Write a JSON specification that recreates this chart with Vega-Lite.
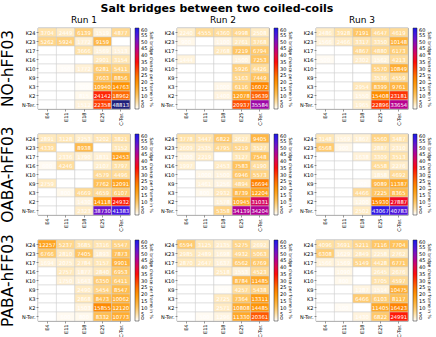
{
"$schema": "https://vega.github.io/schema/vega-lite/v6.json",
"padding": {"left": 0, "right": 0, "top": 3, "bottom": 0},
"title": {"text": "Salt bridges between two coiled-coils", "fontSize": 11, "fontWeight": "bold", "font": "DejaVu Sans", "anchor": "middle", "frame": "bounds", "offset": 2, "color": "#000"},
"data": {"values": [
{"m":"NO-hFF03","r":"Run 1","d":"K24","a":"E4","v":3704},{"m":"NO-hFF03","r":"Run 1","d":"K24","a":"E11","v":2449},{"m":"NO-hFF03","r":"Run 1","d":"K24","a":"E18","v":6139},{"m":"NO-hFF03","r":"Run 1","d":"K24","a":"E25","v":1519},{"m":"NO-hFF03","r":"Run 1","d":"K24","a":"C-Ter.","v":4877},
{"m":"NO-hFF03","r":"Run 1","d":"K23","a":"E4","v":5262},{"m":"NO-hFF03","r":"Run 1","d":"K23","a":"E11","v":5924},{"m":"NO-hFF03","r":"Run 1","d":"K23","a":"E18","v":1772},{"m":"NO-hFF03","r":"Run 1","d":"K23","a":"E25","v":9159},{"m":"NO-hFF03","r":"Run 1","d":"K23","a":"C-Ter.","v":0},
{"m":"NO-hFF03","r":"Run 1","d":"K17","a":"E4","v":0},{"m":"NO-hFF03","r":"Run 1","d":"K17","a":"E11","v":0},{"m":"NO-hFF03","r":"Run 1","d":"K17","a":"E18","v":3666},{"m":"NO-hFF03","r":"Run 1","d":"K17","a":"E25","v":1569},{"m":"NO-hFF03","r":"Run 1","d":"K17","a":"C-Ter.","v":1513},
{"m":"NO-hFF03","r":"Run 1","d":"K16","a":"E4","v":0},{"m":"NO-hFF03","r":"Run 1","d":"K16","a":"E11","v":0},{"m":"NO-hFF03","r":"Run 1","d":"K16","a":"E18","v":0},{"m":"NO-hFF03","r":"Run 1","d":"K16","a":"E25","v":2901},{"m":"NO-hFF03","r":"Run 1","d":"K16","a":"C-Ter.","v":3154},
{"m":"NO-hFF03","r":"Run 1","d":"K10","a":"E4","v":0},{"m":"NO-hFF03","r":"Run 1","d":"K10","a":"E11","v":350},{"m":"NO-hFF03","r":"Run 1","d":"K10","a":"E18","v":1772},{"m":"NO-hFF03","r":"Run 1","d":"K10","a":"E25","v":6281},{"m":"NO-hFF03","r":"Run 1","d":"K10","a":"C-Ter.","v":5411},
{"m":"NO-hFF03","r":"Run 1","d":"K9","a":"E4","v":0},{"m":"NO-hFF03","r":"Run 1","d":"K9","a":"E11","v":0},{"m":"NO-hFF03","r":"Run 1","d":"K9","a":"E18","v":0},{"m":"NO-hFF03","r":"Run 1","d":"K9","a":"E25","v":7603},{"m":"NO-hFF03","r":"Run 1","d":"K9","a":"C-Ter.","v":8856},
{"m":"NO-hFF03","r":"Run 1","d":"K3","a":"E4","v":0},{"m":"NO-hFF03","r":"Run 1","d":"K3","a":"E11","v":0},{"m":"NO-hFF03","r":"Run 1","d":"K3","a":"E18","v":300},{"m":"NO-hFF03","r":"Run 1","d":"K3","a":"E25","v":10940},{"m":"NO-hFF03","r":"Run 1","d":"K3","a":"C-Ter.","v":14763},
{"m":"NO-hFF03","r":"Run 1","d":"K2","a":"E4","v":0},{"m":"NO-hFF03","r":"Run 1","d":"K2","a":"E11","v":0},{"m":"NO-hFF03","r":"Run 1","d":"K2","a":"E18","v":815},{"m":"NO-hFF03","r":"Run 1","d":"K2","a":"E25","v":24142},{"m":"NO-hFF03","r":"Run 1","d":"K2","a":"C-Ter.","v":18962},
{"m":"NO-hFF03","r":"Run 1","d":"N-Ter.","a":"E4","v":0},{"m":"NO-hFF03","r":"Run 1","d":"N-Ter.","a":"E11","v":0},{"m":"NO-hFF03","r":"Run 1","d":"N-Ter.","a":"E18","v":1512},{"m":"NO-hFF03","r":"Run 1","d":"N-Ter.","a":"E25","v":22358},{"m":"NO-hFF03","r":"Run 1","d":"N-Ter.","a":"C-Ter.","v":48813},

{"m":"NO-hFF03","r":"Run 2","d":"K24","a":"E4","v":2240},{"m":"NO-hFF03","r":"Run 2","d":"K24","a":"E11","v":4555},{"m":"NO-hFF03","r":"Run 2","d":"K24","a":"E18","v":4360},{"m":"NO-hFF03","r":"Run 2","d":"K24","a":"E25","v":4998},{"m":"NO-hFF03","r":"Run 2","d":"K24","a":"C-Ter.","v":2508},
{"m":"NO-hFF03","r":"Run 2","d":"K23","a":"E4","v":900},{"m":"NO-hFF03","r":"Run 2","d":"K23","a":"E11","v":0},{"m":"NO-hFF03","r":"Run 2","d":"K23","a":"E18","v":1100},{"m":"NO-hFF03","r":"Run 2","d":"K23","a":"E25","v":2761},{"m":"NO-hFF03","r":"Run 2","d":"K23","a":"C-Ter.","v":3768},
{"m":"NO-hFF03","r":"Run 2","d":"K17","a":"E4","v":0},{"m":"NO-hFF03","r":"Run 2","d":"K17","a":"E11","v":0},{"m":"NO-hFF03","r":"Run 2","d":"K17","a":"E18","v":2768},{"m":"NO-hFF03","r":"Run 2","d":"K17","a":"E25","v":7219},{"m":"NO-hFF03","r":"Run 2","d":"K17","a":"C-Ter.","v":6794},
{"m":"NO-hFF03","r":"Run 2","d":"K16","a":"E4","v":1444},{"m":"NO-hFF03","r":"Run 2","d":"K16","a":"E11","v":0},{"m":"NO-hFF03","r":"Run 2","d":"K16","a":"E18","v":0},{"m":"NO-hFF03","r":"Run 2","d":"K16","a":"E25","v":1500},{"m":"NO-hFF03","r":"Run 2","d":"K16","a":"C-Ter.","v":7253},
{"m":"NO-hFF03","r":"Run 2","d":"K10","a":"E4","v":0},{"m":"NO-hFF03","r":"Run 2","d":"K10","a":"E11","v":0},{"m":"NO-hFF03","r":"Run 2","d":"K10","a":"E18","v":0},{"m":"NO-hFF03","r":"Run 2","d":"K10","a":"E25","v":5926},{"m":"NO-hFF03","r":"Run 2","d":"K10","a":"C-Ter.","v":4426},
{"m":"NO-hFF03","r":"Run 2","d":"K9","a":"E4","v":0},{"m":"NO-hFF03","r":"Run 2","d":"K9","a":"E11","v":0},{"m":"NO-hFF03","r":"Run 2","d":"K9","a":"E18","v":0},{"m":"NO-hFF03","r":"Run 2","d":"K9","a":"E25","v":5163},{"m":"NO-hFF03","r":"Run 2","d":"K9","a":"C-Ter.","v":7449},
{"m":"NO-hFF03","r":"Run 2","d":"K3","a":"E4","v":0},{"m":"NO-hFF03","r":"Run 2","d":"K3","a":"E11","v":0},{"m":"NO-hFF03","r":"Run 2","d":"K3","a":"E18","v":1000},{"m":"NO-hFF03","r":"Run 2","d":"K3","a":"E25","v":6116},{"m":"NO-hFF03","r":"Run 2","d":"K3","a":"C-Ter.","v":16072},
{"m":"NO-hFF03","r":"Run 2","d":"K2","a":"E4","v":0},{"m":"NO-hFF03","r":"Run 2","d":"K2","a":"E11","v":0},{"m":"NO-hFF03","r":"Run 2","d":"K2","a":"E18","v":1400},{"m":"NO-hFF03","r":"Run 2","d":"K2","a":"E25","v":12078},{"m":"NO-hFF03","r":"Run 2","d":"K2","a":"C-Ter.","v":19639},
{"m":"NO-hFF03","r":"Run 2","d":"N-Ter.","a":"E4","v":0},{"m":"NO-hFF03","r":"Run 2","d":"N-Ter.","a":"E11","v":0},{"m":"NO-hFF03","r":"Run 2","d":"N-Ter.","a":"E18","v":0},{"m":"NO-hFF03","r":"Run 2","d":"N-Ter.","a":"E25","v":20937},{"m":"NO-hFF03","r":"Run 2","d":"N-Ter.","a":"C-Ter.","v":35584},

{"m":"NO-hFF03","r":"Run 3","d":"K24","a":"E4","v":2486},{"m":"NO-hFF03","r":"Run 3","d":"K24","a":"E11","v":3928},{"m":"NO-hFF03","r":"Run 3","d":"K24","a":"E18","v":7191},{"m":"NO-hFF03","r":"Run 3","d":"K24","a":"E25","v":4647},{"m":"NO-hFF03","r":"Run 3","d":"K24","a":"C-Ter.","v":4619},
{"m":"NO-hFF03","r":"Run 3","d":"K23","a":"E4","v":1566},{"m":"NO-hFF03","r":"Run 3","d":"K23","a":"E11","v":2466},{"m":"NO-hFF03","r":"Run 3","d":"K23","a":"E18","v":3317},{"m":"NO-hFF03","r":"Run 3","d":"K23","a":"E25","v":3350},{"m":"NO-hFF03","r":"Run 3","d":"K23","a":"C-Ter.","v":10148},
{"m":"NO-hFF03","r":"Run 3","d":"K17","a":"E4","v":0},{"m":"NO-hFF03","r":"Run 3","d":"K17","a":"E11","v":0},{"m":"NO-hFF03","r":"Run 3","d":"K17","a":"E18","v":4867},{"m":"NO-hFF03","r":"Run 3","d":"K17","a":"E25","v":4880},{"m":"NO-hFF03","r":"Run 3","d":"K17","a":"C-Ter.","v":6173},
{"m":"NO-hFF03","r":"Run 3","d":"K16","a":"E4","v":500},{"m":"NO-hFF03","r":"Run 3","d":"K16","a":"E11","v":0},{"m":"NO-hFF03","r":"Run 3","d":"K16","a":"E18","v":2302},{"m":"NO-hFF03","r":"Run 3","d":"K16","a":"E25","v":1562},{"m":"NO-hFF03","r":"Run 3","d":"K16","a":"C-Ter.","v":4213},
{"m":"NO-hFF03","r":"Run 3","d":"K10","a":"E4","v":0},{"m":"NO-hFF03","r":"Run 3","d":"K10","a":"E11","v":0},{"m":"NO-hFF03","r":"Run 3","d":"K10","a":"E18","v":0},{"m":"NO-hFF03","r":"Run 3","d":"K10","a":"E25","v":5570},{"m":"NO-hFF03","r":"Run 3","d":"K10","a":"C-Ter.","v":10849},
{"m":"NO-hFF03","r":"Run 3","d":"K9","a":"E4","v":0},{"m":"NO-hFF03","r":"Run 3","d":"K9","a":"E11","v":0},{"m":"NO-hFF03","r":"Run 3","d":"K9","a":"E18","v":0},{"m":"NO-hFF03","r":"Run 3","d":"K9","a":"E25","v":3536},{"m":"NO-hFF03","r":"Run 3","d":"K9","a":"C-Ter.","v":4559},
{"m":"NO-hFF03","r":"Run 3","d":"K3","a":"E4","v":0},{"m":"NO-hFF03","r":"Run 3","d":"K3","a":"E11","v":0},{"m":"NO-hFF03","r":"Run 3","d":"K3","a":"E18","v":2954},{"m":"NO-hFF03","r":"Run 3","d":"K3","a":"E25","v":8399},{"m":"NO-hFF03","r":"Run 3","d":"K3","a":"C-Ter.","v":9761},
{"m":"NO-hFF03","r":"Run 3","d":"K2","a":"E4","v":0},{"m":"NO-hFF03","r":"Run 3","d":"K2","a":"E11","v":0},{"m":"NO-hFF03","r":"Run 3","d":"K2","a":"E18","v":1550},{"m":"NO-hFF03","r":"Run 3","d":"K2","a":"E25","v":15408},{"m":"NO-hFF03","r":"Run 3","d":"K2","a":"C-Ter.","v":23181},
{"m":"NO-hFF03","r":"Run 3","d":"N-Ter.","a":"E4","v":0},{"m":"NO-hFF03","r":"Run 3","d":"N-Ter.","a":"E11","v":0},{"m":"NO-hFF03","r":"Run 3","d":"N-Ter.","a":"E18","v":1965},{"m":"NO-hFF03","r":"Run 3","d":"N-Ter.","a":"E25","v":22896},{"m":"NO-hFF03","r":"Run 3","d":"N-Ter.","a":"C-Ter.","v":33654},

{"m":"OABA-hFF03","r":"Run 1","d":"K24","a":"E4","v":2891},{"m":"OABA-hFF03","r":"Run 1","d":"K24","a":"E11","v":3128},{"m":"OABA-hFF03","r":"Run 1","d":"K24","a":"E18","v":2253},{"m":"OABA-hFF03","r":"Run 1","d":"K24","a":"E25","v":3202},{"m":"OABA-hFF03","r":"Run 1","d":"K24","a":"C-Ter.","v":3821},
{"m":"OABA-hFF03","r":"Run 1","d":"K23","a":"E4","v":4339},{"m":"OABA-hFF03","r":"Run 1","d":"K23","a":"E11","v":0},{"m":"OABA-hFF03","r":"Run 1","d":"K23","a":"E18","v":8938},{"m":"OABA-hFF03","r":"Run 1","d":"K23","a":"E25","v":0},{"m":"OABA-hFF03","r":"Run 1","d":"K23","a":"C-Ter.","v":3152},
{"m":"OABA-hFF03","r":"Run 1","d":"K17","a":"E4","v":0},{"m":"OABA-hFF03","r":"Run 1","d":"K17","a":"E11","v":2336},{"m":"OABA-hFF03","r":"Run 1","d":"K17","a":"E18","v":1790},{"m":"OABA-hFF03","r":"Run 1","d":"K17","a":"E25","v":1831},{"m":"OABA-hFF03","r":"Run 1","d":"K17","a":"C-Ter.","v":12453},
{"m":"OABA-hFF03","r":"Run 1","d":"K16","a":"E4","v":600},{"m":"OABA-hFF03","r":"Run 1","d":"K16","a":"E11","v":4246},{"m":"OABA-hFF03","r":"Run 1","d":"K16","a":"E18","v":0},{"m":"OABA-hFF03","r":"Run 1","d":"K16","a":"E25","v":2107},{"m":"OABA-hFF03","r":"Run 1","d":"K16","a":"C-Ter.","v":3797},
{"m":"OABA-hFF03","r":"Run 1","d":"K10","a":"E4","v":0},{"m":"OABA-hFF03","r":"Run 1","d":"K10","a":"E11","v":0},{"m":"OABA-hFF03","r":"Run 1","d":"K10","a":"E18","v":0},{"m":"OABA-hFF03","r":"Run 1","d":"K10","a":"E25","v":4579},{"m":"OABA-hFF03","r":"Run 1","d":"K10","a":"C-Ter.","v":4496},
{"m":"OABA-hFF03","r":"Run 1","d":"K9","a":"E4","v":2759},{"m":"OABA-hFF03","r":"Run 1","d":"K9","a":"E11","v":0},{"m":"OABA-hFF03","r":"Run 1","d":"K9","a":"E18","v":0},{"m":"OABA-hFF03","r":"Run 1","d":"K9","a":"E25","v":7762},{"m":"OABA-hFF03","r":"Run 1","d":"K9","a":"C-Ter.","v":12091},
{"m":"OABA-hFF03","r":"Run 1","d":"K3","a":"E4","v":0},{"m":"OABA-hFF03","r":"Run 1","d":"K3","a":"E11","v":800},{"m":"OABA-hFF03","r":"Run 1","d":"K3","a":"E18","v":4669},{"m":"OABA-hFF03","r":"Run 1","d":"K3","a":"E25","v":4659},{"m":"OABA-hFF03","r":"Run 1","d":"K3","a":"C-Ter.","v":6107},
{"m":"OABA-hFF03","r":"Run 1","d":"K2","a":"E4","v":0},{"m":"OABA-hFF03","r":"Run 1","d":"K2","a":"E11","v":0},{"m":"OABA-hFF03","r":"Run 1","d":"K2","a":"E18","v":1430},{"m":"OABA-hFF03","r":"Run 1","d":"K2","a":"E25","v":14118},{"m":"OABA-hFF03","r":"Run 1","d":"K2","a":"C-Ter.","v":24932},
{"m":"OABA-hFF03","r":"Run 1","d":"N-Ter.","a":"E4","v":0},{"m":"OABA-hFF03","r":"Run 1","d":"N-Ter.","a":"E11","v":0},{"m":"OABA-hFF03","r":"Run 1","d":"N-Ter.","a":"E18","v":2323},{"m":"OABA-hFF03","r":"Run 1","d":"N-Ter.","a":"E25","v":38730},{"m":"OABA-hFF03","r":"Run 1","d":"N-Ter.","a":"C-Ter.","v":41383},

{"m":"OABA-hFF03","r":"Run 2","d":"K24","a":"E4","v":3778},{"m":"OABA-hFF03","r":"Run 2","d":"K24","a":"E11","v":3447},{"m":"OABA-hFF03","r":"Run 2","d":"K24","a":"E18","v":6822},{"m":"OABA-hFF03","r":"Run 2","d":"K24","a":"E25","v":2627},{"m":"OABA-hFF03","r":"Run 2","d":"K24","a":"C-Ter.","v":9405},
{"m":"OABA-hFF03","r":"Run 2","d":"K23","a":"E4","v":2609},{"m":"OABA-hFF03","r":"Run 2","d":"K23","a":"E11","v":2535},{"m":"OABA-hFF03","r":"Run 2","d":"K23","a":"E18","v":4795},{"m":"OABA-hFF03","r":"Run 2","d":"K23","a":"E25","v":5219},{"m":"OABA-hFF03","r":"Run 2","d":"K23","a":"C-Ter.","v":3527},
{"m":"OABA-hFF03","r":"Run 2","d":"K17","a":"E4","v":1300},{"m":"OABA-hFF03","r":"Run 2","d":"K17","a":"E11","v":2219},{"m":"OABA-hFF03","r":"Run 2","d":"K17","a":"E18","v":0},{"m":"OABA-hFF03","r":"Run 2","d":"K17","a":"E25","v":3127},{"m":"OABA-hFF03","r":"Run 2","d":"K17","a":"C-Ter.","v":7548},
{"m":"OABA-hFF03","r":"Run 2","d":"K16","a":"E4","v":1997},{"m":"OABA-hFF03","r":"Run 2","d":"K16","a":"E11","v":0},{"m":"OABA-hFF03","r":"Run 2","d":"K16","a":"E18","v":2453},{"m":"OABA-hFF03","r":"Run 2","d":"K16","a":"E25","v":7583},{"m":"OABA-hFF03","r":"Run 2","d":"K16","a":"C-Ter.","v":4190},
{"m":"OABA-hFF03","r":"Run 2","d":"K10","a":"E4","v":0},{"m":"OABA-hFF03","r":"Run 2","d":"K10","a":"E11","v":1000},{"m":"OABA-hFF03","r":"Run 2","d":"K10","a":"E18","v":1500},{"m":"OABA-hFF03","r":"Run 2","d":"K10","a":"E25","v":6946},{"m":"OABA-hFF03","r":"Run 2","d":"K10","a":"C-Ter.","v":5573},
{"m":"OABA-hFF03","r":"Run 2","d":"K9","a":"E4","v":0},{"m":"OABA-hFF03","r":"Run 2","d":"K9","a":"E11","v":1461},{"m":"OABA-hFF03","r":"Run 2","d":"K9","a":"E18","v":1256},{"m":"OABA-hFF03","r":"Run 2","d":"K9","a":"E25","v":4894},{"m":"OABA-hFF03","r":"Run 2","d":"K9","a":"C-Ter.","v":16694},
{"m":"OABA-hFF03","r":"Run 2","d":"K3","a":"E4","v":0},{"m":"OABA-hFF03","r":"Run 2","d":"K3","a":"E11","v":800},{"m":"OABA-hFF03","r":"Run 2","d":"K3","a":"E18","v":2932},{"m":"OABA-hFF03","r":"Run 2","d":"K3","a":"E25","v":8739},{"m":"OABA-hFF03","r":"Run 2","d":"K3","a":"C-Ter.","v":12204},
{"m":"OABA-hFF03","r":"Run 2","d":"K2","a":"E4","v":0},{"m":"OABA-hFF03","r":"Run 2","d":"K2","a":"E11","v":0},{"m":"OABA-hFF03","r":"Run 2","d":"K2","a":"E18","v":1578},{"m":"OABA-hFF03","r":"Run 2","d":"K2","a":"E25","v":10945},{"m":"OABA-hFF03","r":"Run 2","d":"K2","a":"C-Ter.","v":31031},
{"m":"OABA-hFF03","r":"Run 2","d":"N-Ter.","a":"E4","v":0},{"m":"OABA-hFF03","r":"Run 2","d":"N-Ter.","a":"E11","v":0},{"m":"OABA-hFF03","r":"Run 2","d":"N-Ter.","a":"E18","v":5358},{"m":"OABA-hFF03","r":"Run 2","d":"N-Ter.","a":"E25","v":34139},{"m":"OABA-hFF03","r":"Run 2","d":"N-Ter.","a":"C-Ter.","v":34204},

{"m":"OABA-hFF03","r":"Run 3","d":"K24","a":"E4","v":3148},{"m":"OABA-hFF03","r":"Run 3","d":"K24","a":"E11","v":1569},{"m":"OABA-hFF03","r":"Run 3","d":"K24","a":"E18","v":1867},{"m":"OABA-hFF03","r":"Run 3","d":"K24","a":"E25","v":5560},{"m":"OABA-hFF03","r":"Run 3","d":"K24","a":"C-Ter.","v":3487},
{"m":"OABA-hFF03","r":"Run 3","d":"K23","a":"E4","v":6568},{"m":"OABA-hFF03","r":"Run 3","d":"K23","a":"E11","v":900},{"m":"OABA-hFF03","r":"Run 3","d":"K23","a":"E18","v":0},{"m":"OABA-hFF03","r":"Run 3","d":"K23","a":"E25","v":2887},{"m":"OABA-hFF03","r":"Run 3","d":"K23","a":"C-Ter.","v":2310},
{"m":"OABA-hFF03","r":"Run 3","d":"K17","a":"E4","v":0},{"m":"OABA-hFF03","r":"Run 3","d":"K17","a":"E11","v":0},{"m":"OABA-hFF03","r":"Run 3","d":"K17","a":"E18","v":1638},{"m":"OABA-hFF03","r":"Run 3","d":"K17","a":"E25","v":3309},{"m":"OABA-hFF03","r":"Run 3","d":"K17","a":"C-Ter.","v":3513},
{"m":"OABA-hFF03","r":"Run 3","d":"K16","a":"E4","v":0},{"m":"OABA-hFF03","r":"Run 3","d":"K16","a":"E11","v":0},{"m":"OABA-hFF03","r":"Run 3","d":"K16","a":"E18","v":0},{"m":"OABA-hFF03","r":"Run 3","d":"K16","a":"E25","v":4558},{"m":"OABA-hFF03","r":"Run 3","d":"K16","a":"C-Ter.","v":2276},
{"m":"OABA-hFF03","r":"Run 3","d":"K10","a":"E4","v":0},{"m":"OABA-hFF03","r":"Run 3","d":"K10","a":"E11","v":0},{"m":"OABA-hFF03","r":"Run 3","d":"K10","a":"E18","v":0},{"m":"OABA-hFF03","r":"Run 3","d":"K10","a":"E25","v":1858},{"m":"OABA-hFF03","r":"Run 3","d":"K10","a":"C-Ter.","v":4692},
{"m":"OABA-hFF03","r":"Run 3","d":"K9","a":"E4","v":0},{"m":"OABA-hFF03","r":"Run 3","d":"K9","a":"E11","v":0},{"m":"OABA-hFF03","r":"Run 3","d":"K9","a":"E18","v":400},{"m":"OABA-hFF03","r":"Run 3","d":"K9","a":"E25","v":9089},{"m":"OABA-hFF03","r":"Run 3","d":"K9","a":"C-Ter.","v":11387},
{"m":"OABA-hFF03","r":"Run 3","d":"K3","a":"E4","v":0},{"m":"OABA-hFF03","r":"Run 3","d":"K3","a":"E11","v":0},{"m":"OABA-hFF03","r":"Run 3","d":"K3","a":"E18","v":4466},{"m":"OABA-hFF03","r":"Run 3","d":"K3","a":"E25","v":7225},{"m":"OABA-hFF03","r":"Run 3","d":"K3","a":"C-Ter.","v":8365},
{"m":"OABA-hFF03","r":"Run 3","d":"K2","a":"E4","v":0},{"m":"OABA-hFF03","r":"Run 3","d":"K2","a":"E11","v":0},{"m":"OABA-hFF03","r":"Run 3","d":"K2","a":"E18","v":1200},{"m":"OABA-hFF03","r":"Run 3","d":"K2","a":"E25","v":15930},{"m":"OABA-hFF03","r":"Run 3","d":"K2","a":"C-Ter.","v":27887},
{"m":"OABA-hFF03","r":"Run 3","d":"N-Ter.","a":"E4","v":0},{"m":"OABA-hFF03","r":"Run 3","d":"N-Ter.","a":"E11","v":0},{"m":"OABA-hFF03","r":"Run 3","d":"N-Ter.","a":"E18","v":2502},{"m":"OABA-hFF03","r":"Run 3","d":"N-Ter.","a":"E25","v":43067},{"m":"OABA-hFF03","r":"Run 3","d":"N-Ter.","a":"C-Ter.","v":40783},

{"m":"PABA-hFF03","r":"Run 1","d":"K24","a":"E4","v":12257},{"m":"PABA-hFF03","r":"Run 1","d":"K24","a":"E11","v":5237},{"m":"PABA-hFF03","r":"Run 1","d":"K24","a":"E18","v":3685},{"m":"PABA-hFF03","r":"Run 1","d":"K24","a":"E25","v":3316},{"m":"PABA-hFF03","r":"Run 1","d":"K24","a":"C-Ter.","v":5547},
{"m":"PABA-hFF03","r":"Run 1","d":"K23","a":"E4","v":6766},{"m":"PABA-hFF03","r":"Run 1","d":"K23","a":"E11","v":2810},{"m":"PABA-hFF03","r":"Run 1","d":"K23","a":"E18","v":7405},{"m":"PABA-hFF03","r":"Run 1","d":"K23","a":"E25","v":1893},{"m":"PABA-hFF03","r":"Run 1","d":"K23","a":"C-Ter.","v":7873},
{"m":"PABA-hFF03","r":"Run 1","d":"K17","a":"E4","v":1694},{"m":"PABA-hFF03","r":"Run 1","d":"K17","a":"E11","v":2075},{"m":"PABA-hFF03","r":"Run 1","d":"K17","a":"E18","v":2784},{"m":"PABA-hFF03","r":"Run 1","d":"K17","a":"E25","v":3157},{"m":"PABA-hFF03","r":"Run 1","d":"K17","a":"C-Ter.","v":9901},
{"m":"PABA-hFF03","r":"Run 1","d":"K16","a":"E4","v":0},{"m":"PABA-hFF03","r":"Run 1","d":"K16","a":"E11","v":2757},{"m":"PABA-hFF03","r":"Run 1","d":"K16","a":"E18","v":1877},{"m":"PABA-hFF03","r":"Run 1","d":"K16","a":"E25","v":2840},{"m":"PABA-hFF03","r":"Run 1","d":"K16","a":"C-Ter.","v":6953},
{"m":"PABA-hFF03","r":"Run 1","d":"K10","a":"E4","v":0},{"m":"PABA-hFF03","r":"Run 1","d":"K10","a":"E11","v":1750},{"m":"PABA-hFF03","r":"Run 1","d":"K10","a":"E18","v":1643},{"m":"PABA-hFF03","r":"Run 1","d":"K10","a":"E25","v":6350},{"m":"PABA-hFF03","r":"Run 1","d":"K10","a":"C-Ter.","v":6411},
{"m":"PABA-hFF03","r":"Run 1","d":"K9","a":"E4","v":0},{"m":"PABA-hFF03","r":"Run 1","d":"K9","a":"E11","v":0},{"m":"PABA-hFF03","r":"Run 1","d":"K9","a":"E18","v":2490},{"m":"PABA-hFF03","r":"Run 1","d":"K9","a":"E25","v":5454},{"m":"PABA-hFF03","r":"Run 1","d":"K9","a":"C-Ter.","v":8547},
{"m":"PABA-hFF03","r":"Run 1","d":"K3","a":"E4","v":0},{"m":"PABA-hFF03","r":"Run 1","d":"K3","a":"E11","v":0},{"m":"PABA-hFF03","r":"Run 1","d":"K3","a":"E18","v":2868},{"m":"PABA-hFF03","r":"Run 1","d":"K3","a":"E25","v":8473},{"m":"PABA-hFF03","r":"Run 1","d":"K3","a":"C-Ter.","v":10062},
{"m":"PABA-hFF03","r":"Run 1","d":"K2","a":"E4","v":0},{"m":"PABA-hFF03","r":"Run 1","d":"K2","a":"E11","v":0},{"m":"PABA-hFF03","r":"Run 1","d":"K2","a":"E18","v":1503},{"m":"PABA-hFF03","r":"Run 1","d":"K2","a":"E25","v":15855},{"m":"PABA-hFF03","r":"Run 1","d":"K2","a":"C-Ter.","v":12120},
{"m":"PABA-hFF03","r":"Run 1","d":"N-Ter.","a":"E4","v":0},{"m":"PABA-hFF03","r":"Run 1","d":"N-Ter.","a":"E11","v":600},{"m":"PABA-hFF03","r":"Run 1","d":"N-Ter.","a":"E18","v":800},{"m":"PABA-hFF03","r":"Run 1","d":"N-Ter.","a":"E25","v":8332},{"m":"PABA-hFF03","r":"Run 1","d":"N-Ter.","a":"C-Ter.","v":10773},

{"m":"PABA-hFF03","r":"Run 2","d":"K24","a":"E4","v":6594},{"m":"PABA-hFF03","r":"Run 2","d":"K24","a":"E11","v":3125},{"m":"PABA-hFF03","r":"Run 2","d":"K24","a":"E18","v":2135},{"m":"PABA-hFF03","r":"Run 2","d":"K24","a":"E25","v":5275},{"m":"PABA-hFF03","r":"Run 2","d":"K24","a":"C-Ter.","v":2692},
{"m":"PABA-hFF03","r":"Run 2","d":"K23","a":"E4","v":2985},{"m":"PABA-hFF03","r":"Run 2","d":"K23","a":"E11","v":2489},{"m":"PABA-hFF03","r":"Run 2","d":"K23","a":"E18","v":1698},{"m":"PABA-hFF03","r":"Run 2","d":"K23","a":"E25","v":4932},{"m":"PABA-hFF03","r":"Run 2","d":"K23","a":"C-Ter.","v":5063},
{"m":"PABA-hFF03","r":"Run 2","d":"K17","a":"E4","v":2870},{"m":"PABA-hFF03","r":"Run 2","d":"K17","a":"E11","v":2647},{"m":"PABA-hFF03","r":"Run 2","d":"K17","a":"E18","v":1637},{"m":"PABA-hFF03","r":"Run 2","d":"K17","a":"E25","v":6562},{"m":"PABA-hFF03","r":"Run 2","d":"K17","a":"C-Ter.","v":6769},
{"m":"PABA-hFF03","r":"Run 2","d":"K16","a":"E4","v":0},{"m":"PABA-hFF03","r":"Run 2","d":"K16","a":"E11","v":0},{"m":"PABA-hFF03","r":"Run 2","d":"K16","a":"E18","v":2518},{"m":"PABA-hFF03","r":"Run 2","d":"K16","a":"E25","v":1553},{"m":"PABA-hFF03","r":"Run 2","d":"K16","a":"C-Ter.","v":4523},
{"m":"PABA-hFF03","r":"Run 2","d":"K10","a":"E4","v":0},{"m":"PABA-hFF03","r":"Run 2","d":"K10","a":"E11","v":0},{"m":"PABA-hFF03","r":"Run 2","d":"K10","a":"E18","v":0},{"m":"PABA-hFF03","r":"Run 2","d":"K10","a":"E25","v":8784},{"m":"PABA-hFF03","r":"Run 2","d":"K10","a":"C-Ter.","v":11485},
{"m":"PABA-hFF03","r":"Run 2","d":"K9","a":"E4","v":0},{"m":"PABA-hFF03","r":"Run 2","d":"K9","a":"E11","v":0},{"m":"PABA-hFF03","r":"Run 2","d":"K9","a":"E18","v":300},{"m":"PABA-hFF03","r":"Run 2","d":"K9","a":"E25","v":4257},{"m":"PABA-hFF03","r":"Run 2","d":"K9","a":"C-Ter.","v":5438},
{"m":"PABA-hFF03","r":"Run 2","d":"K3","a":"E4","v":0},{"m":"PABA-hFF03","r":"Run 2","d":"K3","a":"E11","v":0},{"m":"PABA-hFF03","r":"Run 2","d":"K3","a":"E18","v":2725},{"m":"PABA-hFF03","r":"Run 2","d":"K3","a":"E25","v":7364},{"m":"PABA-hFF03","r":"Run 2","d":"K3","a":"C-Ter.","v":13311},
{"m":"PABA-hFF03","r":"Run 2","d":"K2","a":"E4","v":0},{"m":"PABA-hFF03","r":"Run 2","d":"K2","a":"E11","v":0},{"m":"PABA-hFF03","r":"Run 2","d":"K2","a":"E18","v":2571},{"m":"PABA-hFF03","r":"Run 2","d":"K2","a":"E25","v":10808},{"m":"PABA-hFF03","r":"Run 2","d":"K2","a":"C-Ter.","v":14485},
{"m":"PABA-hFF03","r":"Run 2","d":"N-Ter.","a":"E4","v":0},{"m":"PABA-hFF03","r":"Run 2","d":"N-Ter.","a":"E11","v":500},{"m":"PABA-hFF03","r":"Run 2","d":"N-Ter.","a":"E18","v":1296},{"m":"PABA-hFF03","r":"Run 2","d":"N-Ter.","a":"E25","v":11330},{"m":"PABA-hFF03","r":"Run 2","d":"N-Ter.","a":"C-Ter.","v":20361},

{"m":"PABA-hFF03","r":"Run 3","d":"K24","a":"E4","v":4096},{"m":"PABA-hFF03","r":"Run 3","d":"K24","a":"E11","v":3691},{"m":"PABA-hFF03","r":"Run 3","d":"K24","a":"E18","v":5211},{"m":"PABA-hFF03","r":"Run 3","d":"K24","a":"E25","v":7116},{"m":"PABA-hFF03","r":"Run 3","d":"K24","a":"C-Ter.","v":7704},
{"m":"PABA-hFF03","r":"Run 3","d":"K23","a":"E4","v":6308},{"m":"PABA-hFF03","r":"Run 3","d":"K23","a":"E11","v":1629},{"m":"PABA-hFF03","r":"Run 3","d":"K23","a":"E18","v":2849},{"m":"PABA-hFF03","r":"Run 3","d":"K23","a":"E25","v":2258},{"m":"PABA-hFF03","r":"Run 3","d":"K23","a":"C-Ter.","v":2762},
{"m":"PABA-hFF03","r":"Run 3","d":"K17","a":"E4","v":1566},{"m":"PABA-hFF03","r":"Run 3","d":"K17","a":"E11","v":1569},{"m":"PABA-hFF03","r":"Run 3","d":"K17","a":"E18","v":5149},{"m":"PABA-hFF03","r":"Run 3","d":"K17","a":"E25","v":4428},{"m":"PABA-hFF03","r":"Run 3","d":"K17","a":"C-Ter.","v":6771},
{"m":"PABA-hFF03","r":"Run 3","d":"K16","a":"E4","v":0},{"m":"PABA-hFF03","r":"Run 3","d":"K16","a":"E11","v":1090},{"m":"PABA-hFF03","r":"Run 3","d":"K16","a":"E18","v":0},{"m":"PABA-hFF03","r":"Run 3","d":"K16","a":"E25","v":2645},{"m":"PABA-hFF03","r":"Run 3","d":"K16","a":"C-Ter.","v":2676},
{"m":"PABA-hFF03","r":"Run 3","d":"K10","a":"E4","v":0},{"m":"PABA-hFF03","r":"Run 3","d":"K10","a":"E11","v":800},{"m":"PABA-hFF03","r":"Run 3","d":"K10","a":"E18","v":0},{"m":"PABA-hFF03","r":"Run 3","d":"K10","a":"E25","v":3705},{"m":"PABA-hFF03","r":"Run 3","d":"K10","a":"C-Ter.","v":4597},
{"m":"PABA-hFF03","r":"Run 3","d":"K9","a":"E4","v":0},{"m":"PABA-hFF03","r":"Run 3","d":"K9","a":"E11","v":0},{"m":"PABA-hFF03","r":"Run 3","d":"K9","a":"E18","v":1287},{"m":"PABA-hFF03","r":"Run 3","d":"K9","a":"E25","v":1514},{"m":"PABA-hFF03","r":"Run 3","d":"K9","a":"C-Ter.","v":10475},
{"m":"PABA-hFF03","r":"Run 3","d":"K3","a":"E4","v":0},{"m":"PABA-hFF03","r":"Run 3","d":"K3","a":"E11","v":0},{"m":"PABA-hFF03","r":"Run 3","d":"K3","a":"E18","v":6466},{"m":"PABA-hFF03","r":"Run 3","d":"K3","a":"E25","v":6103},{"m":"PABA-hFF03","r":"Run 3","d":"K3","a":"C-Ter.","v":8117},
{"m":"PABA-hFF03","r":"Run 3","d":"K2","a":"E4","v":0},{"m":"PABA-hFF03","r":"Run 3","d":"K2","a":"E11","v":500},{"m":"PABA-hFF03","r":"Run 3","d":"K2","a":"E18","v":0},{"m":"PABA-hFF03","r":"Run 3","d":"K2","a":"E25","v":11405},{"m":"PABA-hFF03","r":"Run 3","d":"K2","a":"C-Ter.","v":16423},
{"m":"PABA-hFF03","r":"Run 3","d":"N-Ter.","a":"E4","v":0},{"m":"PABA-hFF03","r":"Run 3","d":"N-Ter.","a":"E11","v":0},{"m":"PABA-hFF03","r":"Run 3","d":"N-Ter.","a":"E18","v":1430},{"m":"PABA-hFF03","r":"Run 3","d":"N-Ter.","a":"E25","v":6822},{"m":"PABA-hFF03","r":"Run 3","d":"N-Ter.","a":"C-Ter.","v":24991}
]},
"facet": {
  "row": {"field": "m", "type": "nominal", "header": {"title": null, "labelFontSize": 15.5, "labelFont": "DejaVu Sans", "labelAngle": -90, "labelPadding": -2, "labelColor": "#000"}},
  "column": {"field": "r", "type": "nominal", "header": {"title": null, "labelFontSize": 9, "labelFont": "DejaVu Sans", "labelPadding": 2, "labelColor": "#000"}}
},
"spacing": {"row": 7, "column": 4},
"resolve": {"scale": {"color": "independent"}, "axis": {"x": "independent", "y": "independent"}},
"spec": {
  "width": 92,
  "height": 81,
  "encoding": {
    "x": {"field": "a", "type": "nominal", "sort": ["E4", "E11", "E18", "E25", "C-Ter."], "title": null, "axis": {"labelAngle": -90}},
    "y": {"field": "d", "type": "nominal", "sort": ["K24", "K23", "K17", "K16", "K10", "K9", "K3", "K2", "N-Ter."], "title": null}
  },
  "layer": [
    {"mark": {"type": "rect", "stroke": "#cccccc", "strokeWidth": 0.5},
     "encoding": {"color": {
       "condition": {"test": "datum.v > 45000", "value": "#1f1f7a"},
       "field": "v", "type": "quantitative",
       "scale": {"domain": [0, 3750, 7500, 11250, 15000, 18750, 22500, 26250, 30000, 33750, 37500, 41250, 45000],
                 "range": ["#ffffff", "#ffe2a8", "#ffc45e", "#ffaa2a", "#ff9200", "#ff6e00", "#ff3c00", "#ff0a0a", "#e0084c", "#b80090", "#8010c0", "#4818e0", "#1a1ae8"],
                 "interpolate": "rgb", "clamp": true},
       "legend": {"title": "Salt bridge chance per frame in %", "values": [0, 3750, 7500, 11250, 15000, 18750, 22500, 26250, 30000, 33750, 37500, 41250, 45000], "labelExpr": "format(datum.value / 750, 'd')"}
     }}},
    {"transform": [{"filter": "datum.v > 0"}],
     "mark": {"type": "text", "color": "#ffffff", "fontSize": 5.3, "font": "DejaVu Sans"},
     "encoding": {"text": {"field": "v", "type": "quantitative", "format": "d"}}}
  ]
},
"config": {
  "view": {"stroke": "#555555", "strokeWidth": 0.7},
  "axis": {"labelFontSize": 5, "labelFont": "DejaVu Sans", "labelColor": "#000", "tickSize": 2, "tickWidth": 0.5, "tickColor": "#333", "domain": false, "labelPadding": 1, "grid": false},
  "legend": {"gradientThickness": 4, "gradientLength": 81, "labelFontSize": 5, "labelFont": "DejaVu Sans", "labelBaseline": "middle", "titleFont": "DejaVu Sans", "titleFontSize": 4.4, "titleFontWeight": "normal", "titleOrient": "right", "titleAngle": 270, "titleAnchor": "middle", "offset": 5, "labelOverlap": false, "gradientStrokeColor": "#222", "gradientStrokeWidth": 0.5, "labelOffset": 2, "titlePadding": 2, "titleColor": "#000", "labelColor": "#000"}
}
}
